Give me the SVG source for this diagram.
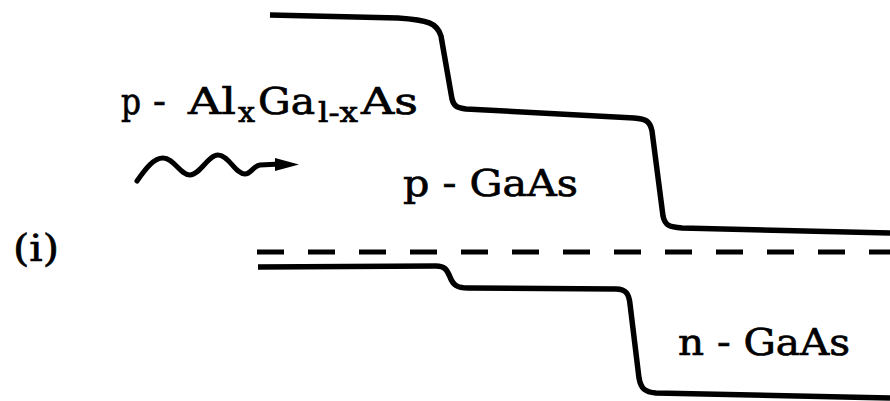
<svg xmlns="http://www.w3.org/2000/svg" width="890" height="401" viewBox="0 0 890 401">
<style>
.band{fill:none;stroke:#000;stroke-width:5.5;stroke-linecap:butt;stroke-linejoin:round}
.fermi{fill:none;stroke:#000;stroke-width:5;stroke-dasharray:27 24}
.lbl{font-family:"DejaVu Serif","Liberation Serif",serif;font-size:38px;fill:#000;stroke:#000;stroke-width:0.7}
.sub{font-size:27px}
</style>
<rect width="890" height="401" fill="#fff"/>
<g id="connectors">
<path id="conduction-band" class="band" d="M270,15 L398,18 C428,20 437,23 441,36 L452,99 C454,107 458,108 466,109 L634,118 C646,119 650,121 652,131 L663,216 C665,226 670,227 682,228 L890,233"/>
<path id="fermi-level" class="fermi" d="M257,252 L890,252"/>
<path id="valence-band" class="band" d="M258,267 L436,266 C445,266 447,270 450,277 C453,285 457,288 468,288 L616,289 C626,289 629,294 630,304 L639,378 C641,389 645,392 656,393 L890,398"/>
<path id="photon" fill="none" stroke="#000" stroke-width="5" stroke-linecap="round" d="M137,181 C146,168 154,158 163,158 C174,158 180,175 190,175 C200,175 208,155 218,155 C229,155 235,174 245,174 C251,174 253,166 260,165 L280,164"/>
<path id="photon-head" fill="#000" d="M275,158 L299,164.5 L275,171 Z"/>
</g>
<g id="label-algaas" class="lbl">
<text x="121" y="114" textLength="20" lengthAdjust="spacingAndGlyphs">p</text>
<text x="153" y="114">-</text>
<text x="188" y="114" textLength="48" lengthAdjust="spacingAndGlyphs">Al</text>
<text class="sub" x="238" y="122" textLength="17" lengthAdjust="spacingAndGlyphs">x</text>
<text x="258" y="114" textLength="57" lengthAdjust="spacingAndGlyphs">Ga</text>
<text class="sub" x="318" y="122" textLength="40" lengthAdjust="spacingAndGlyphs">l-x</text>
<text x="361" y="114" textLength="57" lengthAdjust="spacingAndGlyphs">As</text>
</g>
<g id="label-pgaas">
<text class="lbl" x="403" y="196" textLength="175" lengthAdjust="spacingAndGlyphs">p - GaAs</text>
</g>
<g id="label-ngaas">
<text class="lbl" x="678" y="355" textLength="172" lengthAdjust="spacingAndGlyphs">n - GaAs</text>
</g>
<g id="label-i">
<text class="lbl" x="13" y="261" textLength="46" lengthAdjust="spacingAndGlyphs">(i)</text>
</g>
</svg>
